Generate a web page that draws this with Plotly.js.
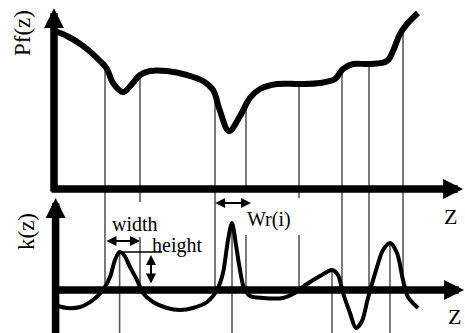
<!DOCTYPE html>
<html><head><meta charset="utf-8">
<script src="https://cdn.plot.ly/plotly-3.0.1.min.js"></script>
<style>html,body{margin:0;padding:0;background:#fff;}#chart{width:465px;height:333px;}</style>
</head><body><div id="chart"></div>
<script>
// ---- data ----
const pfZ   = [0.25,3.25,7.25,11.5,13.25,14.75,17.25,19.5,21.5,24,28.25,33.25,37.25,39.75,41.5,43.75,46.5,49,51.5,55.75,61.5,66.5,70.25,72.25,74.75,79,83.25,84.75,86.5,88.25,91];
const pfVal = [98.75,95.6,89.4,80,75,66.25,60.6,65.6,71.25,73.75,73.75,71.25,67.5,61.9,48.75,36.25,45.6,56.9,62.5,65.6,65.6,66.25,68.75,75,78.1,78.1,80,86.25,96.9,103.1,110];

const kZ   = [1,3.25,6.5,9.75,12.25,14,15.25,16.4,17.5,19,20.75,22.25,24.75,28.25,31.5,34.75,38.25,40.75,42.25,43.5,44.5,45.5,46.5,47.5,49,52.25,57.25,59.75,63.25,66.5,69.5,71,72.25,74,75.5,77,78.5,80.75,82.25,84,85.75,87.25,88.5,91];
const kVal = [-25,-28.1,-26.6,-15.6,0,20.3,46.9,59.4,54.7,35.9,15.6,-4.7,-18.75,-28.1,-31.25,-28.1,-18.75,0,26.6,78.1,104.7,70.3,31.25,3.1,-9.4,-12.5,-12.5,-6.25,9.4,21.9,31.25,23.4,-4.7,-35.9,-59.4,-48.4,-12.5,35.9,62.5,73.4,57.8,15.6,-10.9,-28.1];

// boundary lines (z positions) and the gaps they leave in the lower panel
const lineZ      = [12.75, 21.5, 40.25, 48, 61.25, 72, 78.75, 87.25];
const topEnd     = [-4.4, -4.4, -4.4, -1.9, -4.4, -4.4, -4.4, -4.4];
const gapTop     = [null, 137.5, null, 146.9, 143.75, null, null, null];
const gapBottom  = [null, 82.8, null, 85.9, 85.9, null, null, null];
// peak marker lines
const peakZ = [16.4, 44.5, 69.5, 84];

// labels
const labels = {pf:'Pf(z)', k:'k(z)', width:'width', height:'height', wr:'Wr(i)', z:'Z'};

// ---- helpers ----
function interp(xs, ys, x){
  for(let i=0;i<xs.length-1;i++){
    if(x>=xs[i] && x<=xs[i+1]){
      const t=(x-xs[i])/(xs[i+1]-xs[i]);
      return ys[i]+t*(ys[i+1]-ys[i]);
    }
  }
  return ys[ys.length-1];
}
const W=465, H=333;
const D = 1-196/333;
const Y1 = [-4.375, 118.125];
const Y2 = [-67.1875, 146.875];
const px = v => v/W;
const py = v => 1 - v/H;

const tbx=[], tby=[];
lineZ.forEach((z,i)=>{ tbx.push(z,z,null); tby.push(interp(pfZ,pfVal,z), topEnd[i], null); });
const bbx=[], bby=[];
lineZ.forEach((z,i)=>{
  if(gapTop[i]===null){ bbx.push(z,z,null); bby.push(Y2[1],0,null); }
  else {
    if(gapTop[i] < Y2[1]){ bbx.push(z,z,null); bby.push(Y2[1],gapTop[i],null); }
    bbx.push(z,z,null); bby.push(gapBottom[i],0,null);
  }
});
const pkx=[], pky=[];
peakZ.forEach(z=>{ pkx.push(z,z,null); pky.push(interp(kZ,kVal,z), Y2[0], null); });

const peak1 = interp(kZ,kVal,peakZ[0]);

const grey = '#5a5a5a';
const traces = [
  {x:tbx, y:tby, xaxis:'x', yaxis:'y', mode:'lines', line:{color:grey,width:1.6}, hoverinfo:'skip'},
  {x:bbx, y:bby, xaxis:'x', yaxis:'y2', mode:'lines', line:{color:grey,width:1.6}, hoverinfo:'skip'},
  {x:pkx, y:pky, xaxis:'x', yaxis:'y2', mode:'lines', line:{color:grey,width:1.6}, hoverinfo:'skip'},
  {x:[peakZ[0], 27], y:[peak1, peak1], xaxis:'x', yaxis:'y2', mode:'lines', line:{color:'#000',width:1.3}, hoverinfo:'skip'},
  {x:pfZ, y:pfVal, xaxis:'x', yaxis:'y', mode:'lines', line:{color:'#000',width:6,shape:'spline',smoothing:1}, hoverinfo:'skip'},
  {x:kZ, y:kVal, xaxis:'x', yaxis:'y2', mode:'lines', line:{color:'#000',width:4,shape:'spline',smoothing:0.85}, hoverinfo:'skip'}
];

const serif = 'Liberation Serif, Times New Roman, serif';
function txt(t, x, y, size, angle){
  return {text:t, xref:'paper', yref:'paper', x:px(x), y:py(y), xanchor:'center', yanchor:'middle',
          showarrow:false, textangle:angle||0, font:{family:serif, size:size, color:'#000'}};
}
function axisArrow(yref, x, y, ax, ay){
  return {xref:'x', yref:yref, axref:'x', ayref:yref, x:x, y:y, ax:ax, ay:ay, text:'', showarrow:true,
          arrowhead:2, arrowsize:0.53, arrowwidth:7.5, arrowcolor:'#000', standoff:0};
}
function dblArrow(yref, x, y, ax, ay){
  return {xref:'x', yref:yref, axref:'x', ayref:yref, x:x, y:y, ax:ax, ay:ay, text:'', showarrow:true,
          arrowside:'end+start', arrowhead:2, startarrowhead:2, arrowsize:1, startarrowsize:1,
          arrowwidth:2, arrowcolor:'#000', standoff:0, startstandoff:0};
}

const annotations = [
  axisArrow('y', 0, 113, 0, -2.5),
  axisArrow('y', 102.25, 0, -1, 0),
  axisArrow('y2', 0.4, 143.75, 0.4, -70),
  axisArrow('y2', 102.5, 0, 0, 0),
  dblArrow('y2', lineZ[1], 76.6, lineZ[0], 76.6),
  dblArrow('y2', 49.25, 135.9, 39.9, 135.9),
  dblArrow('y2', 24.25, 54.7, 24.25, 7.8),
  txt(labels.pf, 23, 33, 23, -90),
  txt(labels.k, 27, 232, 23, -90),
  txt(labels.width, 135, 224, 20),
  txt(labels.height, 177, 245, 20),
  txt(labels.wr, 268.5, 219, 20),
  txt(labels.z, 450.5, 216.5, 22),
  txt(labels.z, 454, 316.5, 22)
];

const layout = {
  width:W, height:H, margin:{l:0,r:0,t:0,b:0},
  paper_bgcolor:'#fff', plot_bgcolor:'rgba(0,0,0,0)', showlegend:false,
  xaxis:{range:[-13.5,102.75], visible:false, fixedrange:true},
  yaxis:{domain:[D,1], range:Y1, visible:false, fixedrange:true},
  yaxis2:{domain:[0,D], range:Y2, visible:false, fixedrange:true, anchor:'x'},
  annotations:annotations
};
Plotly.newPlot('chart', traces, layout, {staticPlot:true, displayModeBar:false});
</script></body></html>
